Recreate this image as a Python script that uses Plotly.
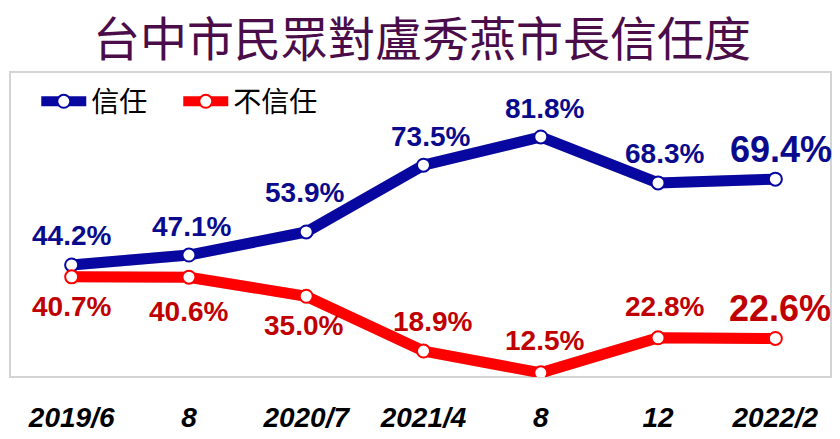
import plotly.graph_objects as go

# ---- data ----
periods = ["2019/6", "8", "2020/7", "2021/4", "8", "12", "2022/2"]
trust = [44.2, 47.1, 53.9, 73.5, 81.8, 68.3, 69.4]
distrust = [40.7, 40.6, 35.0, 18.9, 12.5, 22.8, 22.6]
series_names = ["信任", "不信任"]
title_text = "台中市民眾對盧秀燕市長信任度"

# ---- style ----
BLUE = "#0808A0"
RED = "#FF0000"
BLUE_TXT = "#0A0A8C"
RED_TXT = "#C00000"
NUM_FONT = "Liberation Sans"
CJK = "Noto Sans CJK TC"

W_PX, H_PX = 821, 305     # plot area size (px)
SH = 3                    # shadow offset px
xr = [-0.5, 6.5]
yr = [10.4, 100.0]
ux = (xr[1] - xr[0]) / W_PX
uy = (yr[1] - yr[0]) / H_PX
x_range = [xr[0], xr[1] - SH * ux]
y_range = [yr[0] + SH * uy, yr[1]]

# label offsets (px, negative = above the point)
blue_dy = [-27, -27, -37, -27, -26, -27, -28]
red_dy = [32, 36, 31, -28, -30, -29, -28]
blue_dx = [0, 3, -2, 7, 4, 6, 6]
red_dx = [0, 0, -3, 9, 4, 6, 5]

xi = list(range(len(periods)))

fig = go.Figure()

# shadow traces (base axes, drawn underneath)
for vals in (trust, distrust):
    fig.add_trace(go.Scatter(
        x=xi, y=vals, mode="lines", xaxis="x", yaxis="y",
        line=dict(color="rgba(0,0,0,0.18)", width=11),
        hoverinfo="skip", showlegend=False))

# real series (overlay axes, drawn on top)
for vals, col, name in ((trust, BLUE, series_names[0]), (distrust, RED, series_names[1])):
    fig.add_trace(go.Scatter(
        x=xi, y=vals, mode="lines+markers", name=name, xaxis="x2", yaxis="y2",
        line=dict(color=col, width=11),
        marker=dict(size=13, color="white", line=dict(color=col, width=2)),
    ))

ann = []
n = len(periods)
for i in range(n):
    last = i == n - 1
    for vals, col, dys, dxs in ((trust, BLUE_TXT, blue_dy, blue_dx),
                                (distrust, RED_TXT, red_dy, red_dx)):
        ann.append(dict(
            x=xi[i], y=vals[i], xref="x2", yref="y2",
            text=f"{vals[i]:.1f}%", showarrow=False,
            xanchor="center", yanchor="middle",
            xshift=dxs[i], yshift=-dys[i] + 2,
            font=dict(family=NUM_FONT, size=36 if last else 28, color=col, weight="bold"),
        ))

# title (box top at the page top)
ann.append(dict(x=0.502, y=1 + 72 / H_PX, xref="paper", yref="paper", text=title_text,
                showarrow=False, xanchor="center", yanchor="top", borderpad=0,
                font=dict(family=CJK, size=47, color="#4A0D4A")))

fig.update_layout(
    width=840, height=439,
    margin=dict(l=10, r=9, t=72, b=62, autoexpand=False),
    paper_bgcolor="white", plot_bgcolor="white",
    showlegend=True,
    legend=dict(orientation="h", x=0.032, y=0.985, xanchor="left", yanchor="top",
                font=dict(family=CJK, size=28, color="black"),
                itemwidth=45, entrywidth=82, bgcolor="rgba(0,0,0,0)"),
    xaxis=dict(domain=[SH / W_PX, 1], range=x_range, anchor="y",
               visible=False, automargin=False),
    yaxis=dict(domain=[0, 1 - SH / H_PX], range=y_range, anchor="x",
               visible=False, automargin=False),
    xaxis2=dict(domain=[0, 1 - SH / W_PX], range=x_range, anchor="y2", overlaying="x",
                tickvals=xi, ticktext=periods, automargin=False,
                showgrid=False, zeroline=False, showline=False, ticks="",
                tickfont=dict(family=NUM_FONT, size=28, color="black",
                              weight="bold", style="italic"),
                ticklabelstandoff=21),
    yaxis2=dict(domain=[SH / H_PX, 1], range=y_range, anchor="x2", overlaying="y",
                visible=False, automargin=False),
    shapes=[dict(type="rect", xref="paper", yref="paper", x0=0, x1=1, y0=0, y1=1,
                 line=dict(color="#D4D4D4", width=2), layer="below")],
    annotations=ann,
)

fig.write_html(
    "out.html",
    config={"displayModeBar": False},
    post_script="document.body.style.margin='0';document.body.style.overflow='hidden';",
)
